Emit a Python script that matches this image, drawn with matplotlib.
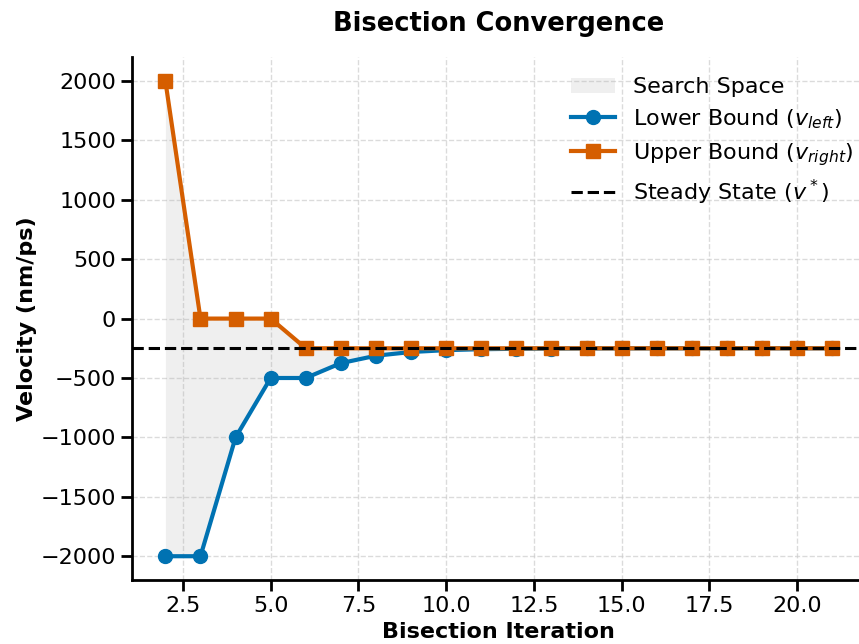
import matplotlib
matplotlib.use('Agg')
import matplotlib.pyplot as plt

# data
iterations = [2, 3, 4, 5, 6, 7, 8, 9, 10, 11, 12, 13, 14, 15, 16, 17, 18, 19, 20, 21]
v_left = [-2000, -2000, -1000, -500, -500, -375, -312.5, -281.25, -265.6, -257.8,
          -253.9, -252.0, -251.0, -250.5, -250.2, -250.1, -250.1, -250.0, -250.0, -250.0]
v_right = [2000, 0, 0, 0, -250, -250, -250, -250, -250, -250,
           -250, -250, -250, -250, -250, -250, -250, -250, -250, -250]
v_star = -250

blue = '#0072B2'
orange = '#D55E00'

fig = plt.figure(figsize=(8.59, 6.44), dpi=100)
ax = fig.add_axes([0.1537, 0.0994, 0.854, 0.8118])

ax.fill_between(iterations, v_left, v_right, color='#b0b0b0', alpha=0.2,
                linewidth=0, label='Search Space')
ax.plot(iterations, v_left, marker='o', color=blue, linewidth=3, markersize=10,
        label=r'Lower Bound ($v_{left}$)')
ax.plot(iterations, v_right, marker='s', color=orange, linewidth=3, markersize=10,
        label=r'Upper Bound ($v_{right}$)')
ax.axhline(v_star, color='black', linestyle='--', linewidth=2.2,
           label=r'Steady State ($v^*$)')

ax.set_xlim(1.05, 21.95)
ax.set_ylim(-2200, 2200)

ax.set_title('Bisection Convergence', fontsize=18.5, fontweight='bold', pad=19)
ax.set_xlabel('Bisection Iteration', fontsize=16, fontweight='bold', labelpad=4)
ax.set_ylabel('Velocity (nm/ps)', fontsize=16, fontweight='bold', labelpad=2.5)

ax.grid(True, linestyle='--', color='#cccccc', alpha=0.7, linewidth=1.0)
ax.set_axisbelow(True)
ax.spines['top'].set_visible(False)
ax.spines['right'].set_visible(False)
for s in ['left', 'bottom']:
    ax.spines[s].set_linewidth(2)
ax.tick_params(labelsize=16, width=2, length=8)

ax.legend(loc='upper right', bbox_to_anchor=(1.0, 0.985), frameon=False,
          fontsize=16, handlelength=2.0, borderaxespad=0.15, labelspacing=0.45)

fig.savefig('out.png', dpi=100)
